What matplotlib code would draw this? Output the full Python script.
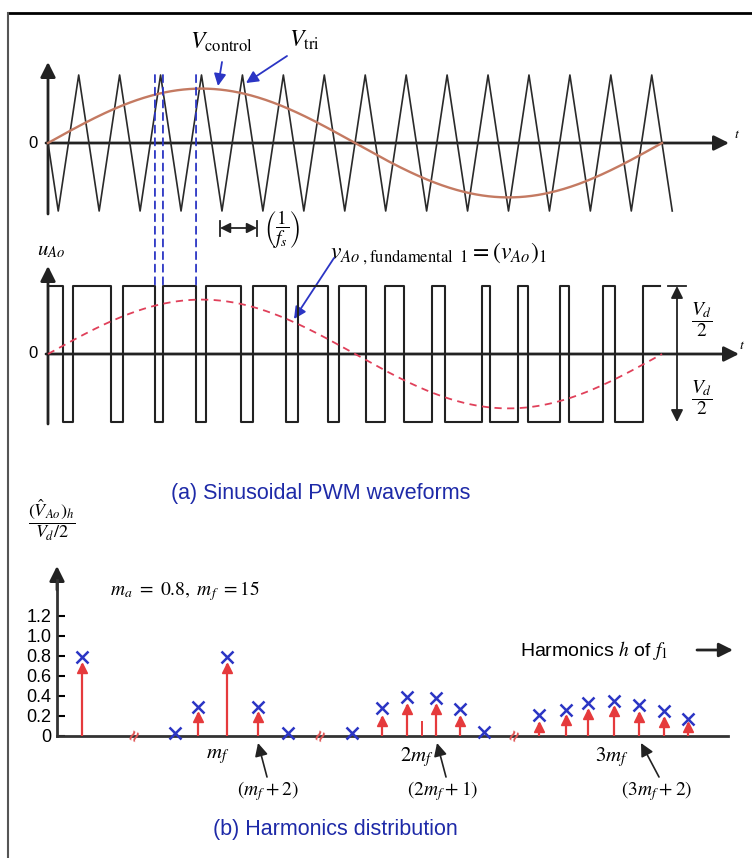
import numpy as np
import matplotlib
matplotlib.use('Agg')
import matplotlib.pyplot as plt
from matplotlib.patches import ConnectionPatch

plt.rcParams['font.family'] = ['Liberation Sans', 'DejaVu Sans']
plt.rcParams['mathtext.fontset'] = 'stix'

# ---------------- data ----------------
m_a = 0.8
m_f = 15

# triangle carrier vertices (degrees of fundamental) and normalized values
tri_deg = [0, 6, 18, 30, 42, 54, 66, 78, 90, 102, 114, 126, 138, 150, 162, 174,
           186, 198, 210, 222, 234, 246, 258, 270, 282, 294, 306, 318, 330, 342, 354, 366]
tri_val = [0, -1, 1, -1, 1, -1, 1, -1, 1, -1, 1, -1, 1, -1, 1, -1,
           1, -1, 1, -1, 1, -1, 1, -1, 1, -1, 1, -1, 1, -1, 1, -1]

# PWM switching instants (degrees), starting at +Vd/2
pwm_edges_deg = [8.8, 14.7, 36.9, 44.0, 62.7, 67.4, 86.8, 92.6, 113.2, 120.2,
                 139.5, 146.6, 164.2, 170.6, 186.4, 197.6, 208.7, 225.1, 232.8, 254.5,
                 259.1, 275.6, 281.4, 300.2, 305.5, 325.4, 332.4, 348.9]
pwm_end_deg = 358.8
pwm_levels = [1.0, -1.0]          # +Vd/2, -Vd/2
marked_edges = [4, 5, 6]          # edges projected from the carrier

# harmonic spectrum
harm_h_blue = [1, 11, 13, 15, 17, 19, 25, 27, 29, 31, 33, 35, 39, 41, 43, 45, 47, 49, 51]
harm_blue = [0.79, 0.03, 0.29, 0.79, 0.29, 0.03, 0.03, 0.28, 0.39, 0.38, 0.27, 0.04,
             0.21, 0.26, 0.33, 0.35, 0.31, 0.25, 0.17]
harm_h_red = [1, 13, 15, 17, 27, 29, 31, 33, 39, 41, 43, 45, 47, 49, 51]
harm_red = [0.72, 0.23, 0.72, 0.23, 0.19, 0.31, 0.31, 0.19, 0.13, 0.20, 0.26, 0.29,
            0.23, 0.18, 0.13]
harm_h_small = [30]
harm_small = [0.15]
break_h = [7, 22, 37]
y_ticks = [0, 0.2, 0.4, 0.6, 0.8, 1.0, 1.2]
y_tick_labels = ['0', '0.2', '0.4', '0.6', '0.8', '1.0', '1.2']

# --------------- layout ---------------
W, H = 752, 858
fig = plt.figure(figsize=(W / 100, H / 100), dpi=100)
fig.patch.set_facecolor('white')

DARK = '#222222'
BLUE = '#2b35c4'
RED = '#e53a3c'
TITLE = '#1e2aa8'

cv = fig.add_axes([0, 0, 1, 1])
cv.set_xlim(0, W)
cv.set_ylim(H, 0)
cv.axis('off')
cv.patch.set_alpha(0)

X0 = 48.0
XS = 614.0 / 360.0


def panel(y0, ys):
    ax = fig.add_axes([0, 0, 1, 1])
    ax.set_xlim(-X0 / XS, (W - X0) / XS)
    ax.set_ylim((y0 - H) / ys, y0 / ys)
    ax.axis('off')
    ax.patch.set_alpha(0)
    return ax


def arrow(x1, y1, x2, y2, color=DARK, lw=2.0, ms=15, hl=0.6, hw=0.3, style='-|>'):
    cv.annotate('', xy=(x2, y2), xytext=(x1, y1),
                arrowprops=dict(arrowstyle=f'{style},head_length={hl},head_width={hw}',
                                color=color, lw=lw, mutation_scale=ms,
                                shrinkA=0, shrinkB=0))


# frame
cv.plot([8, W], [13, 13], color='black', lw=2)
cv.plot([8, 8], [13, H], color='#555555', lw=1.5)

# ---------- (a) top: carrier and control ----------
Y_TOP = 143
ax1 = panel(Y_TOP, 68)
ax1.plot(tri_deg, tri_val, color='#2a2a2a', lw=1.2)
th = np.linspace(0, 360, 500)
ax1.plot(th, m_a * np.sin(np.radians(th)), color='#c47a62', lw=1.7)

arrow(46, Y_TOP, 729, Y_TOP)
arrow(48, 214, 48, 62)
cv.text(33, Y_TOP, '0', fontsize=12, ha='center', va='center')
cv.text(737, Y_TOP - 9, '$t$', fontsize=10, ha='center', va='center')

cv.text(190, 42, r'$V_{\mathrm{control}}$', fontsize=17, ha='left', va='center')
cv.text(289, 40, r'$V_{\mathrm{tri}}$', fontsize=17, ha='left', va='center')
arrow(222, 62, 218, 86, color=BLUE, lw=1.3, ms=12)
arrow(287, 56, 246, 83, color=BLUE, lw=1.3, ms=12)

# 1/fs marker
cv.plot([220, 220], [221, 236], color=DARK, lw=1.3)
cv.plot([257, 257], [221, 236], color=DARK, lw=1.3)
arrow(220, 228, 257, 228, lw=1.3, ms=10, style='<|-|>')
cv.text(282, 230, r'$\left(\dfrac{1}{f_s}\right)$', fontsize=14, ha='center', va='center')

# ---------- (a) bottom: PWM output ----------
Y_MID = 354
ax2 = panel(Y_MID, 68)
t_steps = [0] + pwm_edges_deg + [pwm_end_deg]
lv = [pwm_levels[i % 2] for i in range(len(t_steps) - 1)]
lv = lv + [lv[-1]]
ax2.step(t_steps, lv, where='post', color=DARK, lw=1.5)
ax2.plot(th, m_a * np.sin(np.radians(th)), color='#e0405a', lw=1.3,
         linestyle=(0, (4, 3)))

arrow(46, Y_MID, 739, Y_MID)
arrow(48, 424, 48, 266)
cv.text(33, Y_MID, '0', fontsize=12, ha='center', va='center')
cv.text(742, Y_MID - 9, '$t$', fontsize=10, ha='center', va='center')
cv.text(37, 251, r'$u_{Ao}$', fontsize=15, ha='left', va='center')

for i in marked_edges:
    cp = ConnectionPatch(xyA=(pwm_edges_deg[i], 1.0), coordsA=ax1.transData,
                         xyB=(pwm_edges_deg[i], pwm_levels[0]), coordsB=ax2.transData,
                         color=BLUE, lw=1.3, linestyle=(0, (4, 3)))
    fig.add_artist(cp)

cv.text(330, 254, r'$v_{Ao\ ,\mathrm{fundamental}\ \ 1}=(v_{Ao})_1$',
        fontsize=17, ha='left', va='center')
arrow(334, 258, 294, 319, color=BLUE, lw=1.3, ms=12)

# Vd/2 annotation
cv.plot([668, 686], [Y_MID - 68, Y_MID - 68], color=DARK, lw=1.3)
arrow(677, Y_MID, 677, Y_MID - 68, lw=1.3, ms=12)
arrow(677, Y_MID, 677, Y_MID + 68, lw=1.3, ms=12)
cv.text(702, 320, r'$\dfrac{V_d}{2}$', fontsize=14, ha='center', va='center')
cv.text(702, 398, r'$\dfrac{V_d}{2}$', fontsize=14, ha='center', va='center')

cv.text(321, 493, '(a) Sinusoidal PWM waveforms', fontsize=15.5, color=TITLE,
        ha='center', va='center')

# ---------- (b) harmonics ----------
h_knots = [0, 1, 7, 11, 13, 15, 17, 19, 22, 25, 27, 29, 31, 33, 35, 37,
           39, 41, 43, 45, 47, 49, 51, 55]
px_knots = [57, 82, 137, 175, 198, 227, 258, 288, 323, 352, 382, 407, 436, 460, 484, 517,
            539, 566, 588, 614, 639, 664, 688, 728]

Y_ZERO = 736
Y_PER = 100.0
ax_top_px = 580
ax3 = fig.add_axes([57 / W, (H - Y_ZERO) / H, (728 - 57) / W, (Y_ZERO - ax_top_px) / H])
ax3.patch.set_alpha(0)
ax3.set_xscale('function', functions=(lambda h: np.interp(h, h_knots, px_knots),
                                      lambda p: np.interp(p, px_knots, h_knots)))
ax3.set_xlim(h_knots[0], h_knots[-1])
ax3.set_ylim(0, (Y_ZERO - ax_top_px) / Y_PER)
for s in ['top', 'right']:
    ax3.spines[s].set_visible(False)
for s in ['left', 'bottom']:
    ax3.spines[s].set_linewidth(2)
    ax3.spines[s].set_color('#333333')
ax3.set_xticks([])
ax3.set_xticks([], minor=True)
ax3.set_yticks(y_ticks, y_tick_labels)
ax3.tick_params(axis='y', direction='in', length=6, width=1.5, labelsize=13, pad=4)

ax3.vlines(harm_h_red, 0, harm_red, colors=RED, lw=1.6, zorder=3)
ax3.plot(harm_h_red, np.array(harm_red) - 0.035, '^', color=RED, ms=7, zorder=4,
         clip_on=False)
ax3.vlines(harm_h_small, 0, harm_small, colors=RED, lw=1.4, zorder=3)
ax3.plot(harm_h_blue, harm_blue, 'x', color=BLUE, ms=8, mew=1.8, zorder=5, clip_on=False)
for b in break_h:
    ax3.text(b, 0.0, '≈', color='#e05555', rotation=65, ha='center', va='center',
             fontsize=14, fontweight='bold', zorder=6, clip_on=False)

arrow(57, 590, 57, 566)
cv.text(52, 520, r'$\dfrac{(\hat{V}_{Ao})_h}{V_d/2}$', fontsize=13, ha='center', va='center')
cv.text(110, 591, r'$m_a\ =\ 0.8,\ m_f\ =15$', fontsize=14, ha='left', va='center')
cv.text(520, 650, r'Harmonics $h$ of $f_1$', fontsize=14, ha='left', va='center')
arrow(697, 650, 733, 650, lw=2, ms=14)

cv.text(218, 757, r'$m_f$', fontsize=15, ha='center', va='center')
cv.text(417, 757, r'$2m_f$', fontsize=15, ha='center', va='center')
cv.text(612, 757, r'$3m_f$', fontsize=15, ha='center', va='center')
cv.text(268, 791, r'$(m_f+2)$', fontsize=14, ha='center', va='center')
cv.text(443, 791, r'$(2m_f+1)$', fontsize=14, ha='center', va='center')
cv.text(657, 791, r'$(3m_f+2)$', fontsize=14, ha='center', va='center')
arrow(267, 777, 258, 743, lw=1.2, ms=13)
arrow(446, 777, 437, 743, lw=1.2, ms=13)
arrow(659, 777, 641, 743, lw=1.2, ms=13)

cv.text(335, 830, '(b) Harmonics distribution', fontsize=15.5, color=TITLE,
        ha='center', va='center')

fig.savefig('out.png', dpi=100)
